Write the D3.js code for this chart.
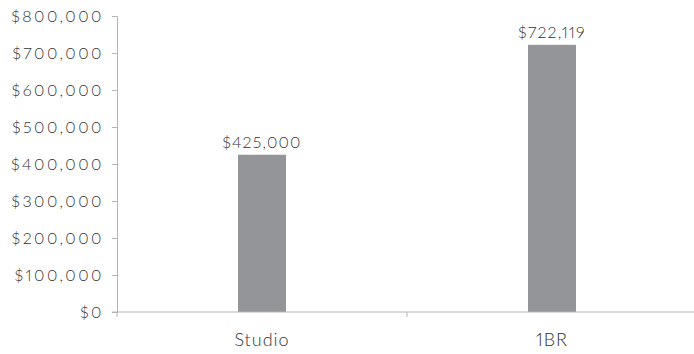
<!DOCTYPE html>
<html>
<head>
<meta charset="utf-8">
<script src="https://cdn.jsdelivr.net/npm/d3@7/dist/d3.min.js"></script>
<style>
  html, body { margin: 0; padding: 0; background: #fff; }
  svg text {
    font-family: Lato, "Open Sans", sans-serif;
    font-weight: 300;
    font-variant-numeric: proportional-nums;
    fill: #333333;
  }
</style>
</head>
<body>
<svg id="chart" width="694" height="354"></svg>
<script>
// Median price by unit type
const categories = ["Studio", "1BR"];
const values = [425000, 722119];
const yTicks = [0, 100000, 200000, 300000, 400000, 500000, 600000, 700000, 800000];

const svg = d3.select("#chart");
const margin = { left: 117, top: 16, bottom: 42, right: -3 };
const W = 694, H = 354;

const x = d3.scaleBand().domain(categories).range([margin.left, W - margin.right]).padding(0);
const y = d3.scaleLinear().domain([0, 800000]).range([H - margin.bottom, margin.top]);

const fmt = v => "$" + d3.format(",")(v);
const axisColor = "#b5b5b5";

// y axis
const yAxis = svg.append("g")
  .attr("transform", `translate(${margin.left},0)`)
  .call(d3.axisLeft(y).tickValues(yTicks).tickFormat(fmt).tickSize(5).tickPadding(8));
yAxis.select(".domain").attr("stroke", axisColor);
yAxis.selectAll(".tick line").attr("stroke", axisColor);
yAxis.selectAll(".tick text")
  .attr("font-size", 16)
  .attr("letter-spacing", 2.5)
  .attr("fill", "#333333");

// bars
const barW = 48;
svg.append("g").selectAll("rect")
  .data(categories)
  .join("rect")
  .attr("x", d => x(d) + x.bandwidth() / 2 - barW / 2)
  .attr("width", barW)
  .attr("y", (d, i) => y(values[i]))
  .attr("height", (d, i) => y(0) - y(values[i]))
  .attr("fill", "#939598");

// x axis with boundary ticks between categories
const xAxisG = svg.append("g").attr("transform", `translate(0,${y(0)})`);
xAxisG.append("line")
  .attr("x1", margin.left - 5).attr("x2", W)
  .attr("y1", 0).attr("y2", 0)
  .attr("stroke", axisColor);
const bounds = categories.map(c => x(c)).concat([x.range()[1]]);
xAxisG.selectAll("line.bt")
  .data(bounds)
  .join("line")
  .attr("class", "bt")
  .attr("x1", d => d).attr("x2", d => d)
  .attr("y1", 0).attr("y2", 5)
  .attr("stroke", axisColor);
xAxisG.selectAll("text.cat")
  .data(categories)
  .join("text")
  .attr("class", "cat")
  .attr("x", d => x(d) + x.bandwidth() / 2)
  .attr("y", 34)
  .attr("text-anchor", "middle")
  .attr("font-size", 18)
  .attr("letter-spacing", 1)
  .text(d => d);

// value labels
svg.append("g").selectAll("text")
  .data(categories)
  .join("text")
  .attr("x", d => x(d) + x.bandwidth() / 2)
  .attr("y", (d, i) => y(values[i]) - 7)
  .attr("text-anchor", "middle")
  .attr("font-size", 16)
  .attr("letter-spacing", 1.2)
  .text((d, i) => fmt(values[i]));
</script>
</body>
</html>
